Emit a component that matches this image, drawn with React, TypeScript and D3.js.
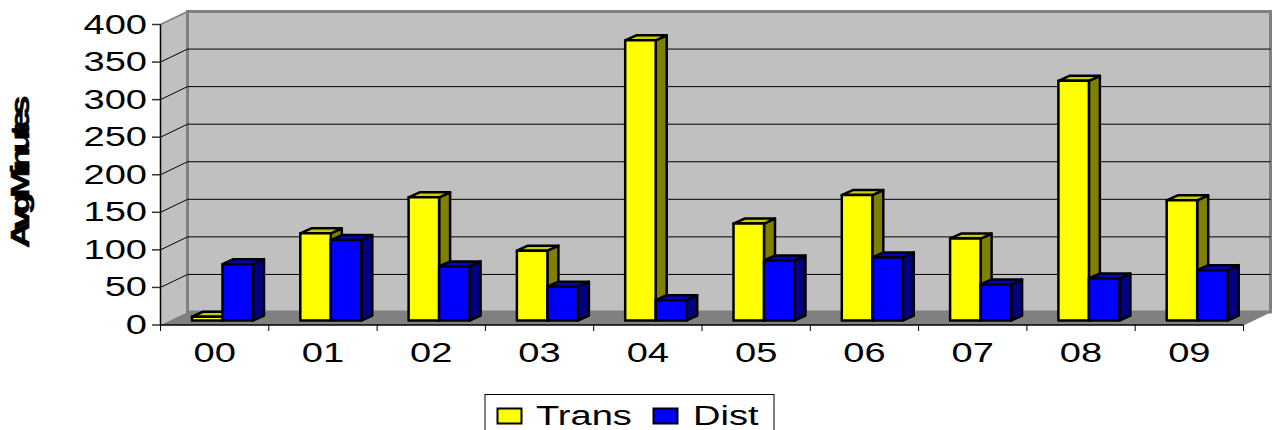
import React from "react";
import * as d3 from "d3";

const categories = ["00", "01", "02", "03", "04", "05", "06", "07", "08", "09"];
const seriesNames = ["Trans", "Dist"];
const trans = [5, 116, 164, 93, 373, 129, 167, 109, 319, 160];
const dist = [75, 107, 72, 45, 27, 80, 84, 48, 56, 67];
const yTicks = [0, 50, 100, 150, 200, 250, 300, 350, 400];

const FONT = "'Liberation Sans', Arial, sans-serif";
const colors = [
  { front: "#ffff00", side: "#808000", top: "#cccc00" },
  { front: "#0000ff", side: "#000080", top: "#0000cc" },
];

const x = d3.scaleBand<string>().domain(categories).range([160.5, 1243.5]);
const y = d3.scaleLinear().domain([0, 400]).range([325, 24.5]);
const inner = d3
  .scaleBand<string>()
  .domain(seriesNames)
  .range([31.5, 92.5]);

// 3d offsets
const depthX = 27;
const depthY = -13;
const barDx = 11;
const barDy = -5;
const barLift = -4.5;

// stretched text, the reference is scaled wider than it is tall
function Wide({ x, y, s, anchor, size = 27, sx = 1.41 }: any) {
  return (
    <text
      transform={`translate(${x},${y}) scale(${sx},1)`}
      textAnchor={anchor}
      fontFamily={FONT}
      fontSize={size}
      fill="#000"
    >
      {s}
    </text>
  );
}

function Bar({ cat, i, value }: any) {
  const c = colors[i];
  const x0 = x(cat)! + inner(seriesNames[i])!;
  const x1 = x0 + inner.bandwidth();
  const b = y(0) + barLift;
  const t = y(value) + barLift;
  return (
    <g stroke="#000" strokeWidth={2.5} strokeLinejoin="round">
      <polygon
        points={`${x1},${t} ${x1 + barDx},${t + barDy} ${x1 + barDx},${b + barDy} ${x1},${b}`}
        fill={c.side}
      />
      <polygon
        points={`${x0},${t} ${x0 + barDx},${t + barDy} ${x1 + barDx},${t + barDy} ${x1},${t}`}
        fill={c.top}
      />
      <rect x={x0} y={t} width={x1 - x0} height={b - t} fill={c.front} />
    </g>
  );
}

export default function App() {
  const [left, right] = x.range();
  const y0 = y(0);
  const yMax = y(400);
  return (
    <svg
      width={1273}
      height={430}
      style={{ position: "absolute", left: 0, top: 0, background: "#fff" }}
    >
      {/* walls */}
      <polygon
        points={`${left},${yMax} ${left + depthX},${yMax + depthY} ${left + depthX},${y0 + depthY} ${left},${y0}`}
        fill="#c0c0c0"
      />
      <rect
        x={left + depthX}
        y={yMax + depthY}
        width={right - left}
        height={y0 - yMax}
        fill="#c0c0c0"
        stroke="#808080"
        strokeWidth={3}
      />
      <polygon
        points={`${left},${y0} ${left + depthX},${y0 + depthY} ${right + depthX},${y0 + depthY} ${right},${y0}`}
        fill="#808080"
      />
      <line
        x1={left}
        y1={yMax}
        x2={left + depthX}
        y2={yMax + depthY}
        stroke="#808080"
        strokeWidth={1.5}
      />

      {/* gridlines */}
      {yTicks.slice(1, -1).map((t) => (
        <path
          key={t}
          d={`M${left},${y(t)}L${left + depthX},${y(t) + depthY}H${right + depthX}`}
          fill="none"
          stroke="#000"
          strokeWidth={1}
        />
      ))}

      {/* axes */}
      <line x1={left} y1={yMax} x2={left} y2={y0} stroke="#000" strokeWidth={1.5} />
      <line x1={left} y1={y0} x2={right} y2={y0} stroke="#000" strokeWidth={1.5} />
      <line
        x1={right}
        y1={y0}
        x2={right + depthX}
        y2={y0 + depthY}
        stroke="#808080"
        strokeWidth={1}
      />
      {yTicks.map((t) => (
        <g key={t}>
          <line x1={152} x2={left} y1={y(t)} y2={y(t)} stroke="#333" strokeWidth={1.5} />
          <Wide x={147} y={y(t) + 9} s={t} anchor="end" />
        </g>
      ))}
      {categories.map((c) => (
        <g key={c}>
          <line x1={x(c)!} x2={x(c)!} y1={y0} y2={y0 + 6} stroke="#000" strokeWidth={1} />
          <Wide x={x(c)! + x.bandwidth() / 2} y={362} s={c} anchor="middle" />
        </g>
      ))}
      <line x1={right} x2={right} y1={y0} y2={y0 + 6} stroke="#000" strokeWidth={1} />

      {/* bars */}
      {categories.map((c, k) => (
        <g key={c}>
          <Bar cat={c} i={0} value={trans[k]} />
          <Bar cat={c} i={1} value={dist[k]} />
        </g>
      ))}

      {/* axis title, letters overlap in the reference */}
      <text
        transform="translate(29,248) rotate(-90) scale(1.4,1)"
        fontFamily={FONT}
        fontSize={26}
        fontWeight="bold"
        stroke="#000"
        strokeWidth={0.6}
        textLength={109}
        lengthAdjust="spacing"
      >
        AvgMinutes
      </text>

      {/* legend */}
      <rect x={485} y={394.5} width={289} height={50} fill="#fff" stroke="#000" strokeWidth={1} />
      <rect x={497.5} y={408.5} width={24} height={15} fill={colors[0].front} stroke="#000" strokeWidth={2} />
      <Wide x={536} y={425} s={seriesNames[0]} anchor="start" />
      <rect x={653.5} y={408.5} width={24} height={15} fill={colors[1].front} stroke="#000" strokeWidth={2} />
      <Wide x={693} y={425} s={seriesNames[1]} anchor="start" />
    </svg>
  );
}
